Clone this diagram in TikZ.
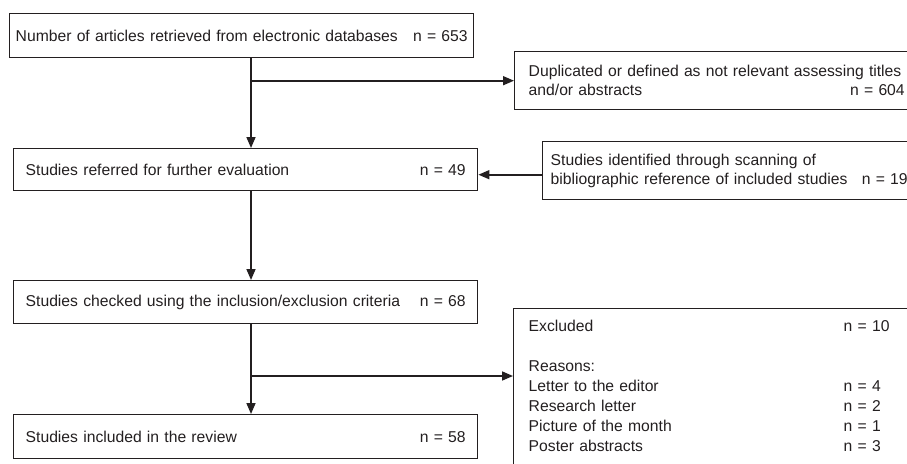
\documentclass[tikz,border=0pt]{standalone}
\usepackage{fontspec}
\setmainfont{Liberation Sans}
\usetikzlibrary{arrows.meta, positioning, calc}
\definecolor{FlowInk}{RGB}{35, 31, 32}
\newcommand{\flowline}[2]{\makebox[\hsize][l]{#1\hfill#2}}
\tikzset{
  flowbox/.style={draw=FlowInk, line width=1.4pt, anchor=north west, align=left, text=FlowInk, inner ysep=6pt, font=\fontsize{15.7}{19}\selectfont},
  flowarrow/.style={draw=FlowInk, line width=1.6pt, -{Triangle[length=11pt, width=9pt]}}
}

\begin{document}
\begin{tikzpicture}[x=1pt, y=-1pt]
        \useasboundingbox (0,0) rectangle (907,463);
        \coordinate (spine) at (251,0);
        \coordinate (split) at (251,376);

        \node[flowbox, text width=452pt, inner xsep=6pt, minimum height=44pt] (retrieved) at (9,13) {\flowline{Number of articles retrieved from electronic databases}{n = 653}};
        \node[flowbox, text width=376pt, inner xsep=14pt, minimum height=58pt] (duplicated) at (514,51) {\mbox{Duplicated or defined as not relevant assessing titles}\\\flowline{and/or abstracts}{n = 604}};
        \node[flowbox, text width=440pt, inner xsep=12pt, minimum height=42pt] (referred) at (13,148) {\flowline{Studies referred for further evaluation}{n = 49}};
        \node[flowbox, text width=357pt, inner xsep=8pt, minimum height=58pt] (identified) at (542,141) {Studies identified through scanning of\\\flowline{bibliographic reference of included studies}{n = 19}};
        \node[flowbox, text width=440pt, inner xsep=12pt, minimum height=43pt] (checked) at (13,280) {\flowline{Studies checked using the inclusion/exclusion criteria}{n = 68}};
        \node[flowbox, text width=440pt, inner xsep=12pt, minimum height=44pt] (included) at (13,414) {\flowline{Studies included in the review}{n = 58}};
        \node[flowbox, text width=380pt, inner xsep=15pt, inner ysep=9pt, font=\fontsize{15.7}{20}\selectfont] (excluded) at (513,308) {%
          \begin{tabular}{@{}p{315pt}@{}l@{}}
            Excluded & n = 10\\
            & \\
            Reasons: & \\
            Letter to the editor & n = 4\\
            Research letter & n = 2\\
            Picture of the month & n = 1\\
            Poster abstracts & n = 3
          \end{tabular}};

        \draw[flowarrow] (retrieved.south -| spine) -- (referred.north -| spine);
        \draw[flowarrow] (duplicated.west -| spine) -- (duplicated.west);
        \draw[flowarrow] ($(identified.west)+(0,4)$) -- ($(identified.west -| referred.east)+(0,4)$);
        \draw[flowarrow] (referred.south -| spine) -- (checked.north -| spine);
        \draw[flowarrow] (checked.south -| spine) -- (included.north -| spine);
        \draw[flowarrow] (split) -- (split -| excluded.west);
      \end{tikzpicture}
\end{document}
